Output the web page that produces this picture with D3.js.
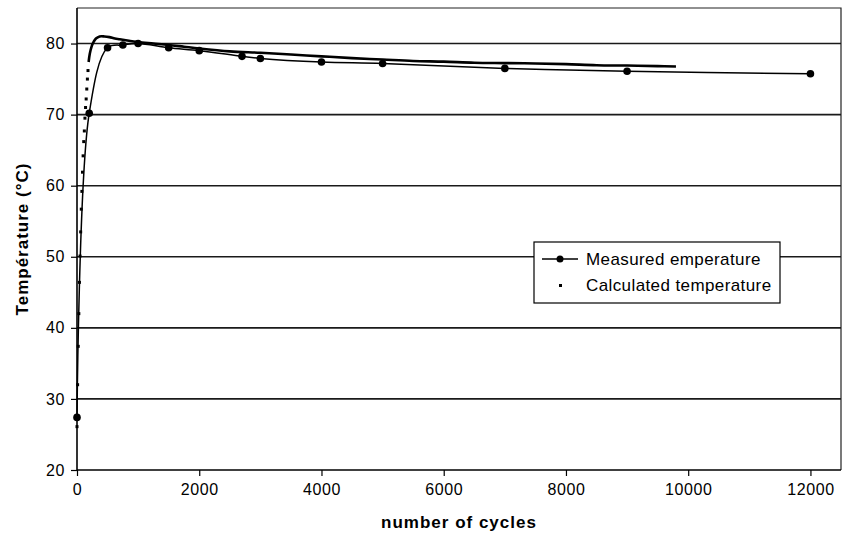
<!DOCTYPE html>
<html>
<head>
<meta charset="utf-8">
<script src="https://cdn.jsdelivr.net/npm/d3@7"></script>
<style>
  html, body { margin: 0; padding: 0; background: #fff; }
  svg { display: block; font-family: "Liberation Sans", Arial, sans-serif; }
</style>
</head>
<body>
<svg id="chart" width="842" height="541"></svg>
<script>
// ---- data ----
const measuredCycles = [0, 200, 500, 750, 1000, 1500, 2000, 2700, 3000, 4000, 5000, 7000, 9000, 12000];
const measuredTemp   = [27.4, 70.2, 79.4, 79.8, 80.0, 79.4, 79.0, 78.2, 77.9, 77.4, 77.2, 76.5, 76.1, 75.75];

const calcCycles = [0, 10, 20, 30, 40, 50, 60, 70, 80, 90, 100, 110, 120, 130, 140, 150, 160, 170, 180, 190,
                    210, 240, 270, 310, 370, 450, 530, 620, 700, 850, 1000, 1250, 1500, 1750, 2000, 2500,
                    3000, 3500, 4000, 4500, 5000, 5500, 6000, 6500, 7000, 7500, 8000, 8500, 9000, 9500, 9800];
const calcTemp   = [26.1, 32.0, 37.4, 42.0, 46.4, 50.1, 53.5, 56.7, 59.2, 61.9, 64.2, 66.2, 67.7, 69.5, 71.0, 72.2, 73.6, 75.0, 76.2, 77.4,
                    78.6, 79.6, 80.2, 80.7, 81.0, 81.0, 80.9, 80.7, 80.6, 80.4, 80.2, 80.0, 79.8, 79.55, 79.3, 78.9,
                    78.7, 78.45, 78.2, 77.95, 77.75, 77.55, 77.45, 77.3, 77.25, 77.2, 77.1, 76.95, 76.9, 76.82, 76.78];

const xTicks = [0, 2000, 4000, 6000, 8000, 10000, 12000];
const yTicks = [20, 30, 40, 50, 60, 70, 80];
const seriesNames = ["Measured emperature", "Calculated temperature"];
const xTitle = "number of cycles";
const yTitle = "Température (°C)";

(function () {
// ---- layout ----
const svg = d3.select("#chart");
const pL = 77, pR = 841, pT = 8, pB = 470;
const x = d3.scaleLinear().domain([0, 12500]).range([pL, pR]);
const y = d3.scaleLinear().domain([20, 85]).range([pB, pT]);

// frame (top & right)
svg.append("path")
  .attr("d", `M${pL},${pT}H${pR}V${pB}`)
  .attr("fill", "none").attr("stroke", "#222").attr("stroke-width", 1.2);

// gridlines
svg.append("g").selectAll("line")
  .data(yTicks.filter(d => d > 20))
  .join("line")
  .attr("x1", pL).attr("x2", pR)
  .attr("y1", d => y(d)).attr("y2", d => y(d))
  .attr("stroke", "#1a1a1a").attr("stroke-width", 1.6);

// axes
const xAxis = d3.axisBottom(x).tickValues(xTicks).tickSize(6).tickPadding(8).tickFormat(d3.format("d"));
const yAxis = d3.axisLeft(y).tickValues(yTicks).tickSize(6).tickPadding(6).tickFormat(d3.format("d"));

const gx = svg.append("g").attr("transform", `translate(0,${pB})`).call(xAxis);
const gy = svg.append("g").attr("transform", `translate(${pL},0)`).call(yAxis);
[gx, gy].forEach(g => {
  g.select(".domain").attr("stroke", "#000").attr("stroke-width", 1.6);
  g.selectAll(".tick line").attr("stroke", "#000").attr("stroke-width", 1.2);
  g.selectAll(".tick text")
    .attr("fill", "#000")
    .style("font-size", "16px")
    .style("font-family", "'Liberation Sans', Arial, sans-serif")
    .attr("letter-spacing", "0.6px");
});
gx.select(".domain").attr("d", `M${pL},0H${pR}`);
gy.select(".domain").attr("d", `M0,${pB}V${pT}`);

// axis titles
svg.append("text")
  .attr("x", (pL + pR) / 2).attr("y", 528)
  .attr("text-anchor", "middle")
  .style("font-size", "17px").style("font-weight", "bold")
  .attr("letter-spacing", "1px")
  .text(xTitle);
svg.append("text")
  .attr("transform", `translate(28,${(pT + pB) / 2}) rotate(-90)`)
  .attr("text-anchor", "middle")
  .style("font-size", "17px").style("font-weight", "bold")
  .attr("letter-spacing", "1px")
  .text(yTitle);

// ---- series ----
const measured = measuredCycles.map((c, i) => ({ c, t: measuredTemp[i] }));
const calc = calcCycles.map((c, i) => ({ c, t: calcTemp[i] }));

const lineGen = d3.line().x(d => x(d.c)).y(d => y(d.t)).curve(d3.curveCatmullRom);

// calculated: dense points drawn as small squares; where dense they merge to a thick line
svg.append("path")
  .datum(calc.filter(d => d.c >= 190))
  .attr("d", lineGen)
  .attr("fill", "none").attr("stroke", "#000").attr("stroke-width", 2.6);
svg.append("g").selectAll("rect")
  .data(calc.filter(d => d.c < 190))
  .join("rect")
  .attr("x", d => x(d.c) - 1.5).attr("y", d => y(d.t) - 1.5)
  .attr("width", 3).attr("height", 3).attr("fill", "#000");

// measured: line with markers
svg.append("path")
  .datum(measured)
  .attr("d", lineGen)
  .attr("fill", "none").attr("stroke", "#000").attr("stroke-width", 1.5);
svg.append("g").selectAll("circle")
  .data(measured)
  .join("circle")
  .attr("cx", d => x(d.c)).attr("cy", d => y(d.t)).attr("r", 3.8)
  .attr("fill", "#000");

// ---- legend ----
const lg = svg.append("g");
lg.append("rect")
  .attr("x", 534).attr("y", 242).attr("width", 246).attr("height", 61)
  .attr("fill", "#fff").attr("stroke", "#000").attr("stroke-width", 1.2);
lg.append("line").attr("x1", 542).attr("x2", 578).attr("y1", 259).attr("y2", 259)
  .attr("stroke", "#000").attr("stroke-width", 1.5);
lg.append("circle").attr("cx", 560).attr("cy", 259).attr("r", 3.5).attr("fill", "#000");
lg.append("rect").attr("x", 559).attr("y", 284).attr("width", 3).attr("height", 3).attr("fill", "#000");
lg.selectAll("text.leg")
  .data(seriesNames)
  .join("text")
  .attr("class", "leg")
  .attr("x", 586).attr("y", (d, i) => 259 + i * 26)
  .attr("dy", "0.35em")
  .style("font-size", "17px")
  .attr("letter-spacing", "0.4px")
  .text(d => d);
})();
</script>
</body>
</html>
